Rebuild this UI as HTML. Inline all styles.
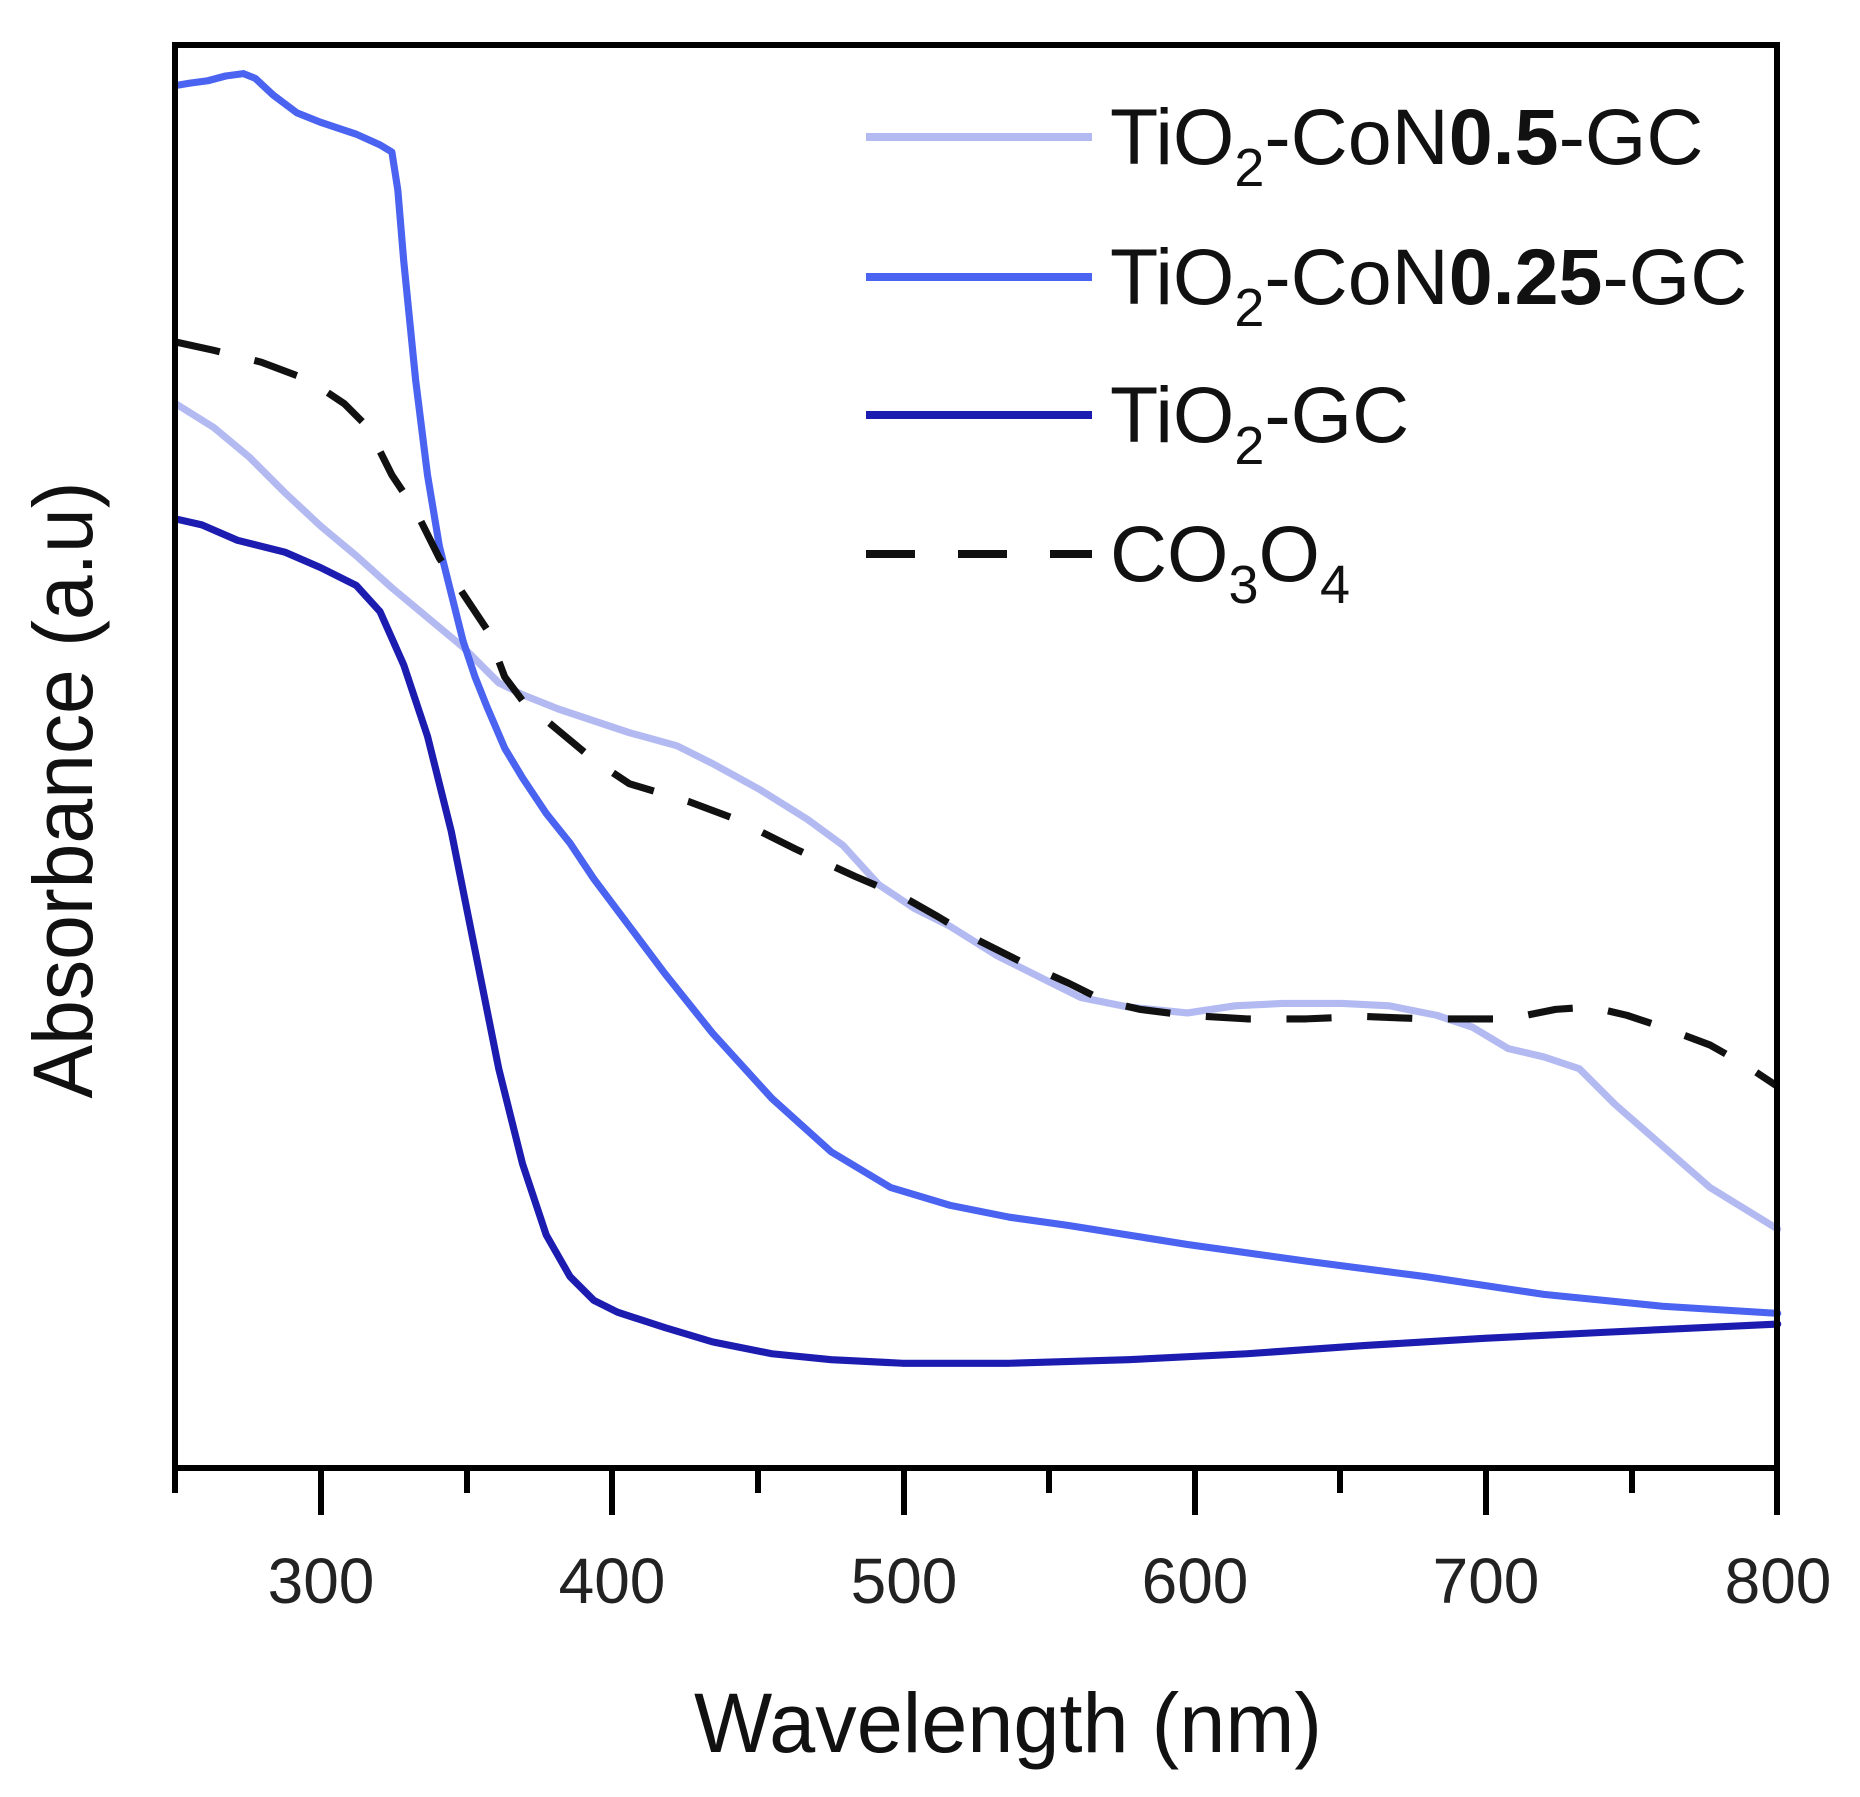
<!DOCTYPE html>
<html><head><meta charset="utf-8"><style>html,body{margin:0;padding:0;background:#fff}svg{display:block}</style></head>
<body>
<svg width="1860" height="1797" viewBox="0 0 1860 1797" xmlns="http://www.w3.org/2000/svg" font-family="Liberation Sans, sans-serif">
<rect width="1860" height="1797" fill="#fff"/>
<g transform="scale(1.1875)" fill="none" stroke-linejoin="round" stroke-linecap="round">
<polyline stroke="#b3baf2" stroke-width="6" points="148,340 180,360 210,385 240,415 270,443 300,468 330,495 360,520 390,545 420,575 440,585 470,597 500,607 530,617 570,628 600,643 640,665 680,690 710,712 740,745 770,765 800,780 840,805 880,825 910,840 950,848 1000,853 1040,847 1080,845 1130,845 1170,847 1210,855 1240,865 1270,883 1300,890 1330,900 1360,930 1400,965 1440,1000 1497,1035"/>
<polyline stroke="#4a63f0" stroke-width="6" points="148,72 160,70 175,68 190,64 205,62 215,66 230,80 250,95 270,103 300,113 320,122 330,128 335,160 340,220 350,320 360,400 370,460 380,500 390,540 400,570 410,595 425,630 440,655 460,685 480,710 500,740 530,780 560,820 600,870 650,925 700,970 750,1000 800,1015 850,1025 900,1032 950,1040 1000,1048 1100,1062 1200,1075 1300,1090 1400,1100 1497,1106"/>
<polyline stroke="#1c1cb0" stroke-width="6" points="148,437 170,442 200,455 240,465 270,478 300,493 320,515 340,560 360,620 380,700 400,800 420,900 440,980 460,1040 480,1075 500,1095 520,1105 560,1118 600,1130 650,1140 700,1145 760,1148 850,1148 950,1145 1050,1140 1150,1133 1250,1127 1350,1122 1497,1115"/>
<polyline stroke="#111" stroke-width="6" stroke-dasharray="38,30" stroke-linecap="butt" points="148,288 180,295 220,305 260,320 290,340 310,360 330,400 350,430 370,470 390,500 410,530 425,570 440,590 470,615 500,640 530,660 580,675 620,690 670,715 720,738 760,755 790,772 820,790 860,810 900,828 930,843 960,850 1000,855 1050,858 1100,858 1150,856 1200,858 1240,858 1270,858 1310,850 1340,848 1370,855 1400,865 1440,880 1470,897 1497,915"/>
</g>
<rect x="175" y="45" width="1602" height="1423" fill="none" stroke="#000" stroke-width="6"/>
<g stroke="#000" stroke-width="6">
<line x1="175" y1="1468" x2="175" y2="1493"/>
<line x1="321" y1="1468" x2="321" y2="1515"/>
<line x1="467" y1="1468" x2="467" y2="1493"/>
<line x1="612" y1="1468" x2="612" y2="1515"/>
<line x1="758" y1="1468" x2="758" y2="1493"/>
<line x1="904" y1="1468" x2="904" y2="1515"/>
<line x1="1049" y1="1468" x2="1049" y2="1493"/>
<line x1="1195" y1="1468" x2="1195" y2="1515"/>
<line x1="1340" y1="1468" x2="1340" y2="1493"/>
<line x1="1486" y1="1468" x2="1486" y2="1515"/>
<line x1="1632" y1="1468" x2="1632" y2="1493"/>
<line x1="1777" y1="1468" x2="1777" y2="1515"/>
</g>
<g font-size="64" text-anchor="middle" fill="#222">
<text x="321" y="1603">300</text><text x="612" y="1603">400</text><text x="904" y="1603">500</text>
<text x="1195" y="1603">600</text><text x="1486" y="1603">700</text><text x="1778" y="1603">800</text>
</g>
<text x="1008" y="1752" font-size="84" text-anchor="middle" fill="#111" textLength="628" lengthAdjust="spacingAndGlyphs">Wavelength (nm)</text>
<text transform="translate(92,790) rotate(-90)" font-size="84" text-anchor="middle" fill="#111" textLength="617" lengthAdjust="spacingAndGlyphs">Absorbance (a.u)</text>
<g stroke-width="8">
<line x1="866" y1="137" x2="1092" y2="137" stroke="#b3baf2"/>
<line x1="866" y1="277" x2="1092" y2="277" stroke="#4a63f0"/>
<line x1="866" y1="415" x2="1092" y2="415" stroke="#1c1cb0"/>
<line x1="866" y1="554" x2="1092" y2="554" stroke="#111" stroke-dasharray="49,43"/>
</g>
<g font-size="79" fill="#111">
<text x="1110" y="164">TiO<tspan font-size="54" dy="22">2</tspan><tspan dy="-22">-CoN</tspan><tspan font-weight="bold">0.5</tspan>-GC</text>
<text x="1110" y="304">TiO<tspan font-size="54" dy="22">2</tspan><tspan dy="-22">-CoN</tspan><tspan font-weight="bold">0.25</tspan>-GC</text>
<text x="1110" y="442">TiO<tspan font-size="54" dy="22">2</tspan><tspan dy="-22">-GC</tspan></text>
<text x="1110" y="581">CO<tspan font-size="54" dy="22">3</tspan><tspan dy="-22">O</tspan><tspan font-size="54" dy="22">4</tspan></text>
</g>
</svg>
</body></html>
